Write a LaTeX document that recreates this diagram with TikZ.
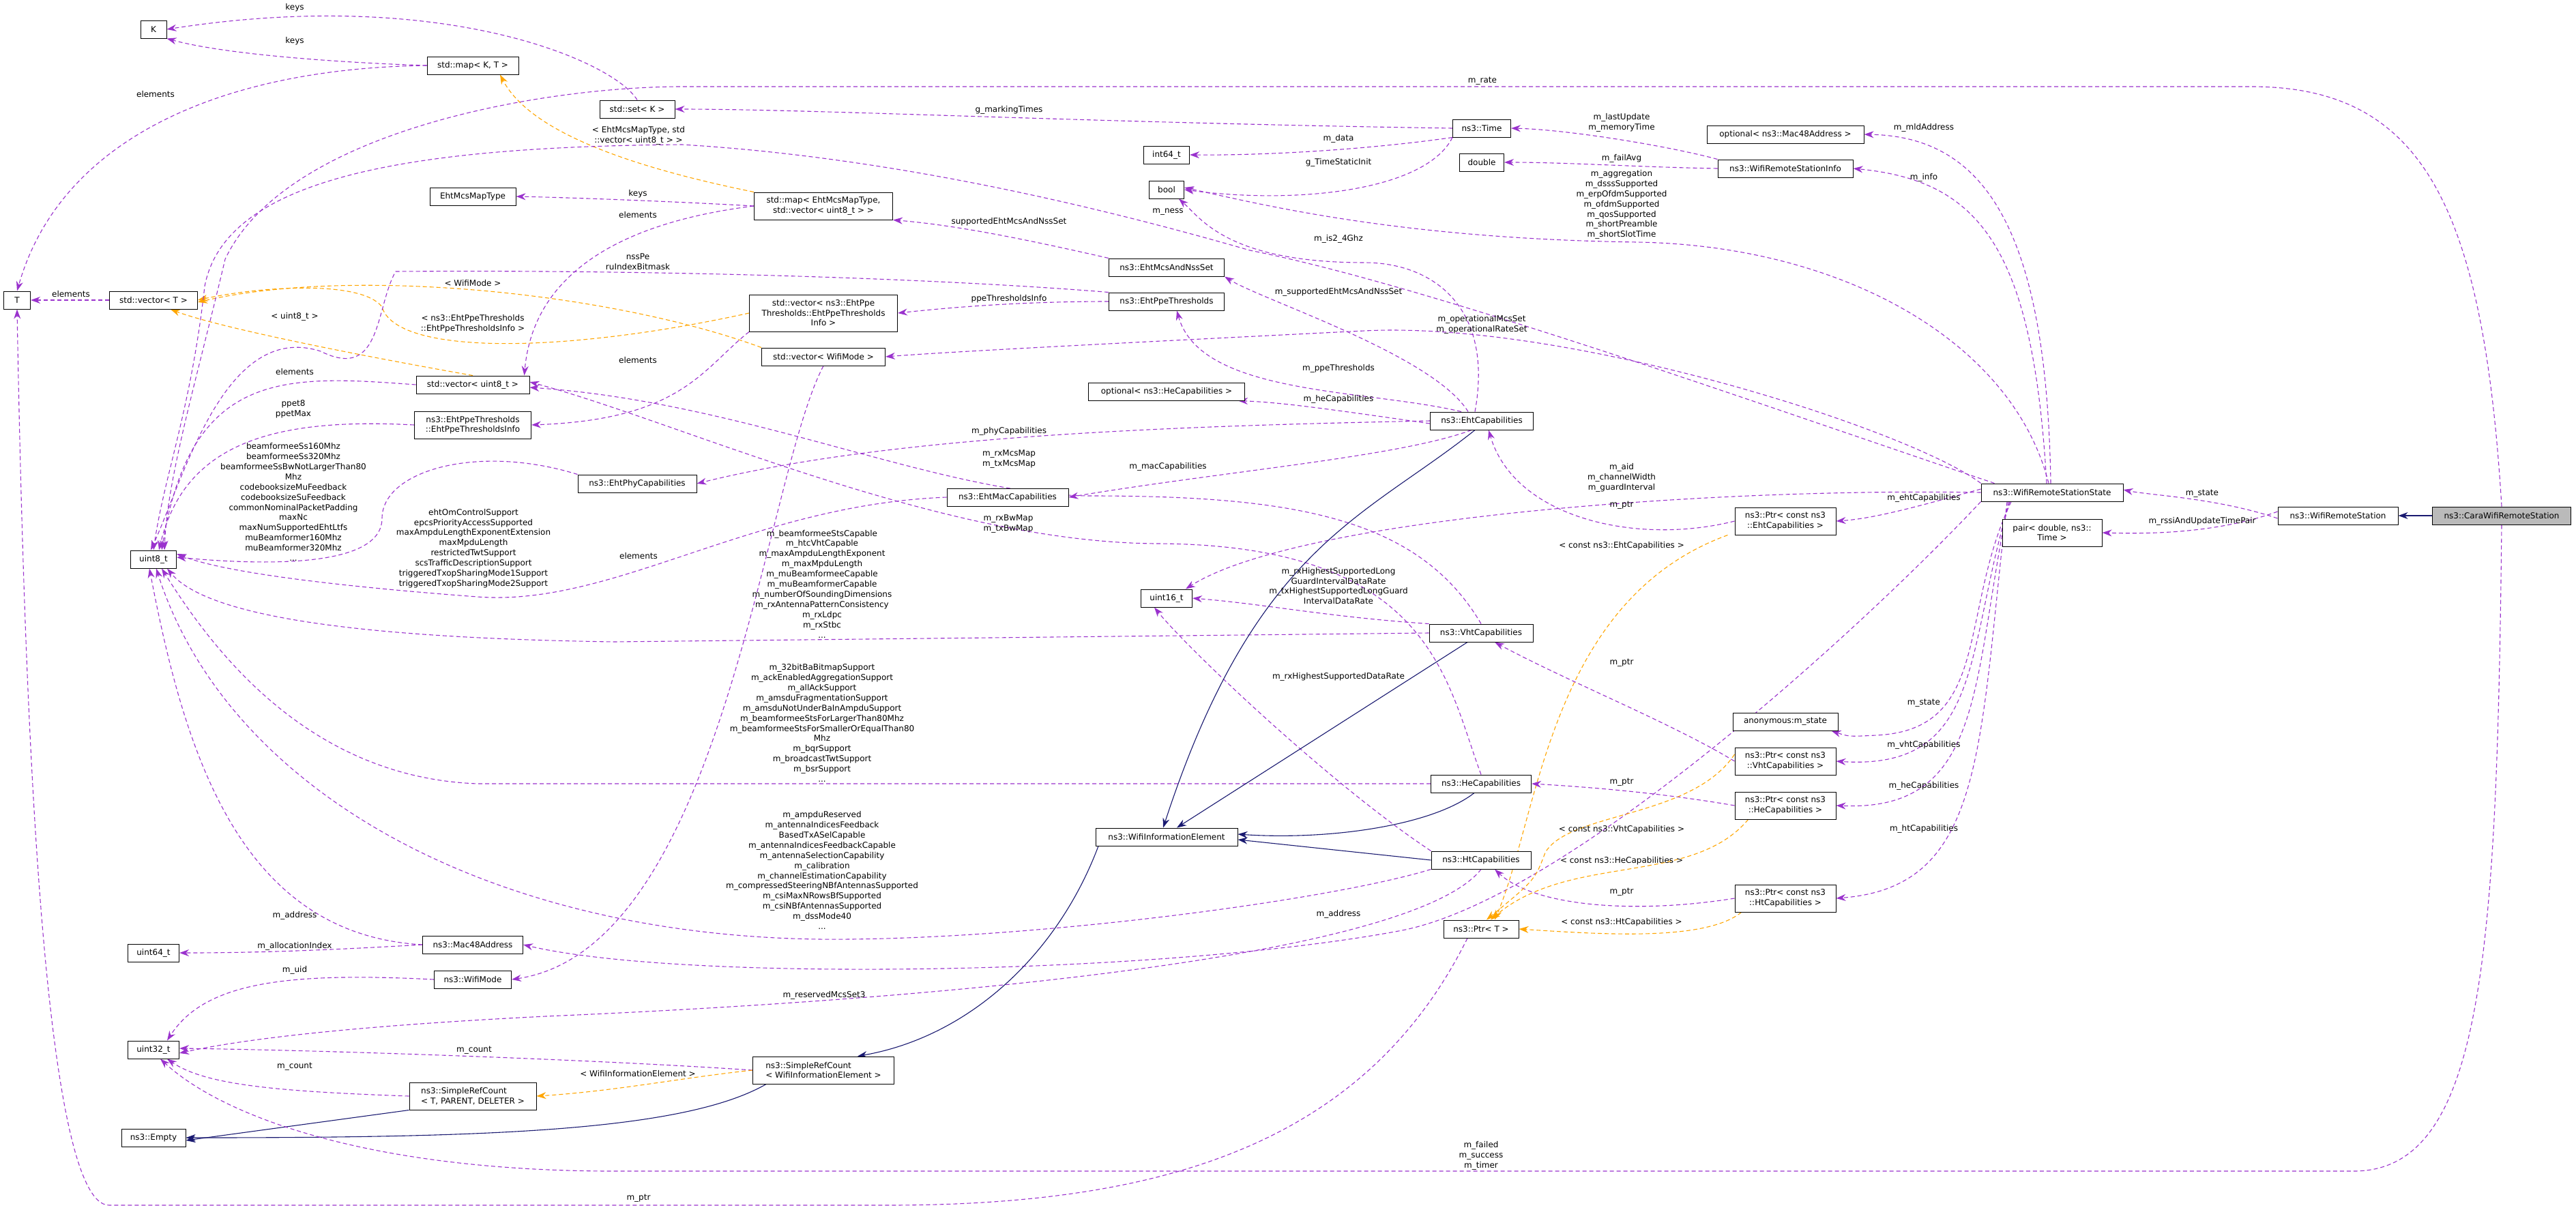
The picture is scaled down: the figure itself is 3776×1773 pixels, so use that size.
\documentclass[tikz,border=0pt]{standalone}
\usepackage{fontspec}
\setmainfont{DejaVu Sans}
\usetikzlibrary{arrows.meta,backgrounds}
\definecolor{pp}{HTML}{9A32CD}
\definecolor{og}{HTML}{FFA500}
\definecolor{nv}{HTML}{191970}
\begin{document}
\begin{tikzpicture}[x=1pt,y=-1pt,
 box/.style={draw=black,fill=white,inner sep=0pt,minimum height=26pt,align=center,line width=1pt,font=\fontsize{12}{14.5}\selectfont},
 box2/.style={box,minimum height=40pt},
 lbl/.style={font=\fontsize{12}{14.9}\selectfont,align=center,inner sep=0pt},
 e/.style={pp,line width=1.1pt,dash pattern=on 6pt off 4pt,-{Stealth[length=14pt,width=10pt]}},
 o/.style={e,og},
 n/.style={nv,line width=1.1pt,-{Stealth[length=14pt,width=10pt]}}]
\useasboundingbox (0,0) rectangle (3776,1773);
% nodes
\node[box,minimum width=38] (K) at (225,43) {K};
\node[box,minimum width=134] (mapKT) at (693,96) {std::map< K, T >};
\node[box,minimum width=110] (setK) at (934,160) {std::set< K >};
\node[box,minimum width=39] (T) at (25,440) {T};
\node[box,minimum width=129] (vecT) at (225,440) {std::vector< T >};
\node[box,minimum width=126] (emmt) at (693,288) {EhtMcsMapType};
\node[box2,minimum width=203] (mapEht) at (1207,302) {std::map< EhtMcsMapType,\\std::vector< uint8\_t > >};
\node[box,minimum height=54pt,minimum width=217] (vecPpe) at (1207,459) {std::vector< ns3::EhtPpe\\Thresholds::EhtPpeThresholds\\Info >};
\node[box,minimum width=181] (vecWM) at (1207,523) {std::vector< WifiMode >};
\node[box,minimum width=166] (vecU8) at (693,564) {std::vector< uint8\_t >};
\node[box2,minimum width=171] (ppeInfo) at (693,623) {ns3::EhtPpeThresholds\\::EhtPpeThresholdsInfo};
\node[box,minimum width=174] (ehtPhy) at (934,709) {ns3::EhtPhyCapabilities};
\node[box,minimum width=178] (ehtMac) at (1477,729) {ns3::EhtMacCapabilities};
\node[box,minimum width=67] (u8) at (225,820) {uint8\_t};
\node[box,minimum width=75] (u64) at (225,1397) {uint64\_t};
\node[box,minimum width=147] (mac48) at (693,1385) {ns3::Mac48Address};
\node[box,minimum width=113] (wifiMode) at (693,1436) {ns3::WifiMode};
\node[box,minimum width=75] (u32) at (225,1539) {uint32\_t};
\node[box2,minimum width=186,align=left] (srcTPD) at (693,1607) {ns3::SimpleRefCount\\< T, PARENT, DELETER >};
\node[box,minimum width=94] (empty) at (225,1668) {ns3::Empty};
\node[box2,minimum width=207,align=left] (srcWIE) at (1207,1569) {ns3::SimpleRefCount\\< WifiInformationElement >};
\node[box,minimum width=208] (wie) at (1710,1227) {ns3::WifiInformationElement};
\node[box,minimum width=85] (time) at (2172,188) {ns3::Time};
\node[box,minimum width=67] (i64) at (1710,227) {int64\_t};
\node[box,minimum width=51] (bool) at (1710,278) {bool};
\node[box,minimum width=65] (double) at (2172,238) {double};
\node[box,minimum width=230] (optMac) at (2617,197) {optional< ns3::Mac48Address >};
\node[box,minimum width=198] (wrsInfo) at (2617,247) {ns3::WifiRemoteStationInfo};
\node[box,minimum width=169] (ehtMcsNss) at (1710,392) {ns3::EhtMcsAndNssSet};
\node[box,minimum width=169] (ehtPpe) at (1710,442) {ns3::EhtPpeThresholds};
\node[box,minimum width=229] (optHe) at (1710,574) {optional< ns3::HeCapabilities >};
\node[box,minimum width=151] (ehtCap) at (2172,617) {ns3::EhtCapabilities};
\node[box2,minimum width=148] (ptrEht) at (2617,764) {ns3::Ptr< const ns3\\::EhtCapabilities >};
\node[box,minimum width=75] (u16) at (1710,877) {uint16\_t};
\node[box,minimum width=152] (vht) at (2171,928) {ns3::VhtCapabilities};
\node[box,minimum width=154] (anon) at (2617,1058) {anonymous:m\_state};
\node[box2,minimum width=148] (ptrVht) at (2617,1116) {ns3::Ptr< const ns3\\::VhtCapabilities >};
\node[box,minimum width=147] (he) at (2171,1149) {ns3::HeCapabilities};
\node[box2,minimum width=148] (ptrHe) at (2617,1181) {ns3::Ptr< const ns3\\::HeCapabilities >};
\node[box,minimum width=146] (ht) at (2171,1261) {ns3::HtCapabilities};
\node[box2,minimum width=148] (ptrHt) at (2617,1317) {ns3::Ptr< const ns3\\::HtCapabilities >};
\node[box,minimum width=110] (ptrT) at (2171,1362) {ns3::Ptr< T >};
\node[box,minimum width=208] (wrss) at (3008,722) {ns3::WifiRemoteStationState};
\node[box,minimum width=176] (wrs) at (3427,756) {ns3::WifiRemoteStation};
\node[box,minimum width=203,fill=black!27] (cara) at (3667,756) {ns3::CaraWifiRemoteStation};
\node[box2,minimum width=146] (pair) at (3008,781) {pair< double, ns3::\\Time >};
% labels
\node[lbl] (l1) at (432,11) {keys};
\node[lbl] (l2) at (432,60) {keys};
\node[lbl] (l3) at (228,138) {elements};
\node[lbl] (l4) at (104,431) {elements};
\node[lbl] (l5) at (935,284) {keys};
\node[lbl] (l6) at (935,315) {elements};
\node[lbl] (l7) at (936,199) {< EhtMcsMapType, std\\::vector< uint8\_t > >};
\node[lbl] (l8) at (432,464) {< uint8\_t >};
\node[lbl] (l9) at (693,475) {< ns3::EhtPpeThresholds\\::EhtPpeThresholdsInfo >};
\node[lbl] (l10) at (693,415) {< WifiMode >};
\node[lbl] (l11) at (432,545) {elements};
\node[lbl] (l12) at (430,600) {ppet8\\ppetMax};
\node[lbl] (l13) at (430,736) {beamformeeSs160Mhz\\beamformeeSs320Mhz\\beamformeeSsBwNotLargerThan80\\Mhz\\codebooksizeMuFeedback\\codebooksizeSuFeedback\\commonNominalPacketPadding\\maxNc\\maxNumSupportedEhtLtfs\\muBeamformer160Mhz\\muBeamformer320Mhz\\...};
\node[lbl] (l14) at (694,804) {ehtOmControlSupport\\epcsPriorityAccessSupported\\maxAmpduLengthExponentExtension\\maxMpduLength\\restrictedTwtSupport\\scsTrafficDescriptionSupport\\triggeredTxopSharingMode1Support\\triggeredTxopSharingMode2Support};
\node[lbl] (l15) at (935,528) {elements};
\node[lbl] (l16) at (936,815) {elements};
\node[lbl] (l17) at (1479,673) {m\_rxMcsMap\\m\_txMcsMap};
\node[lbl] (l18) at (1478,768) {m\_rxBwMap\\m\_txBwMap};
\node[lbl] (l19) at (1962,859) {m\_rxHighestSupportedLong\\GuardIntervalDataRate\\m\_txHighestSupportedLongGuard\\IntervalDataRate};
\node[lbl] (l20) at (1962,992) {m\_rxHighestSupportedDataRate};
\node[lbl] (l21) at (2377,700) {m\_aid\\m\_channelWidth\\m\_guardInterval};
\node[lbl] (l22) at (1205,856) {m\_beamformeeStsCapable\\m\_htcVhtCapable\\m\_maxAmpduLengthExponent\\m\_maxMpduLength\\m\_muBeamformeeCapable\\m\_muBeamformerCapable\\m\_numberOfSoundingDimensions\\m\_rxAntennaPatternConsistency\\m\_rxLdpc\\m\_rxStbc\\...};
\node[lbl] (l23) at (1205,1060) {m\_32bitBaBitmapSupport\\m\_ackEnabledAggregationSupport\\m\_allAckSupport\\m\_amsduFragmentationSupport\\m\_amsduNotUnderBaInAmpduSupport\\m\_beamformeeStsForLargerThan80Mhz\\m\_beamformeeStsForSmallerOrEqualThan80\\Mhz\\m\_bqrSupport\\m\_broadcastTwtSupport\\m\_bsrSupport\\...};
\node[lbl] (l24) at (1205,1276) {m\_ampduReserved\\m\_antennaIndicesFeedback\\BasedTxASelCapable\\m\_antennaIndicesFeedbackCapable\\m\_antennaSelectionCapability\\m\_calibration\\m\_channelEstimationCapability\\m\_compressedSteeringNBfAntennasSupported\\m\_csiMaxNRowsBfSupported\\m\_csiNBfAntennasSupported\\m\_dssMode40\\...};
\node[lbl] (l25) at (1962,1340) {m\_address};
\node[lbl] (l26) at (432,1342) {m\_address};
\node[lbl] (l27) at (432,1387) {m\_allocationIndex};
\node[lbl] (l28) at (432,1422) {m\_uid};
\node[lbl] (l29) at (1208,1459) {m\_reservedMcsSet3};
\node[lbl] (l30) at (695,1540) {m\_count};
\node[lbl] (l31) at (432,1564) {m\_count};
\node[lbl] (l32) at (935,1574) {< WifiInformationElement >};
\node[lbl] (l33) at (936,1757) {m\_ptr};
\node[lbl] (l34) at (2171,1694) {m\_failed\\m\_success\\m\_timer};
\node[lbl] (l35) at (2173,119) {m\_rate};
\node[lbl] (l36) at (1479,161) {g\_markingTimes};
\node[lbl] (l37) at (1962,203) {m\_data};
\node[lbl] (l38) at (1962,238) {g\_TimeStaticInit};
\node[lbl] (l39) at (2377,180) {m\_lastUpdate\\m\_memoryTime};
\node[lbl] (l40) at (2377,232) {m\_failAvg};
\node[lbl] (l41) at (2377,300) {m\_aggregation\\m\_dsssSupported\\m\_erpOfdmSupported\\m\_ofdmSupported\\m\_qosSupported\\m\_shortPreamble\\m\_shortSlotTime};
\node[lbl] (l42) at (1962,350) {m\_is2\_4Ghz};
\node[lbl] (l43) at (1479,325) {supportedEhtMcsAndNssSet};
\node[lbl] (l44) at (1962,428) {m\_supportedEhtMcsAndNssSet};
\node[lbl] (l45) at (1479,438) {ppeThresholdsInfo};
\node[lbl] (l46) at (935,384) {nssPe\\ruIndexBitmask};
\node[lbl] (l47) at (1962,540) {m\_ppeThresholds};
\node[lbl] (l48) at (1962,585) {m\_heCapabilities};
\node[lbl] (l49) at (1479,632) {m\_phyCapabilities};
\node[lbl] (l50) at (1712,684) {m\_macCapabilities};
\node[lbl] (l51) at (2172,476) {m\_operationalMcsSet\\m\_operationalRateSet};
\node[lbl] (l52) at (1712,311) {m\_ness};
\node[lbl] (l53) at (2820,187) {m\_mldAddress};
\node[lbl] (l54) at (2820,260) {m\_info};
\node[lbl] (l55) at (2820,730) {m\_ehtCapabilities};
\node[lbl] (l56) at (2820,1031) {m\_state};
\node[lbl] (l57) at (2820,1092) {m\_vhtCapabilities};
\node[lbl] (l58) at (2820,1152) {m\_heCapabilities};
\node[lbl] (l59) at (2820,1215) {m\_htCapabilities};
\node[lbl] (l60) at (3228,724) {m\_state};
\node[lbl] (l61) at (3228,764) {m\_rssiAndUpdateTimePair};
\node[lbl] (l62) at (2377,741) {m\_ptr};
\node[lbl] (l63) at (2377,800) {< const ns3::EhtCapabilities >};
\node[lbl] (l64) at (2377,972) {m\_ptr};
\node[lbl] (l65) at (2377,1147) {m\_ptr};
\node[lbl] (l66) at (2377,1308) {m\_ptr};
\node[lbl] (l67) at (2377,1216) {< const ns3::VhtCapabilities >};
\node[lbl] (l68) at (2377,1262) {< const ns3::HeCapabilities >};
\node[lbl] (l69) at (2377,1352) {< const ns3::HtCapabilities >};
% edges
\begin{scope}[on background layer]
\draw[e] (setK.north) .. controls (900,90) and (650,-20) .. (K.east);
\draw[e] (mapKT.west) .. controls (500,92) and (330,80) .. (K.south east);
\draw[e] (mapKT.west) .. controls (330,100) and (90,200) .. (T.north);
\draw[e] (vecT.west) -- (T.east);
\draw[e] (mapEht.west) .. controls (1000,296) and (850,290) .. (emmt.east);
\draw[e] (mapEht.west) .. controls (880,330) and (780,420) .. ([xshift=-8pt]vecU8.north east);
\draw[o] (mapEht.north west) .. controls (950,250) and (780,200) .. ([xshift=40pt]mapKT.south);
\draw[o] (vecU8.north) .. controls (520,520) and (320,480) .. ([xshift=-40pt]vecT.south east);
\draw[o] (vecPpe.west) .. controls (820,520) and (580,520) .. (560,450) .. controls (530,410) and (380,420) .. (vecT.east);
\draw[o] (vecWM.north west) .. controls (900,430) and (520,390) .. ([yshift=-3pt]vecT.east);
\draw[e] (vecU8.west) .. controls (420,550) and (280,540) .. ([xshift=12pt]u8.north);
\draw[e] (ppeInfo.west) .. controls (400,612) and (270,650) .. ([xshift=8pt]u8.north);
\draw[e] (ehtPhy.north west) .. controls (700,650) and (560,690) .. (560,760) .. controls (560,830) and (400,830) .. ([yshift=3pt]u8.east);
\draw[e] (ehtMac.west) .. controls (1100,740) and (900,890) .. (700,875) .. controls (500,860) and (330,840) .. ([yshift=8pt]u8.east);
\draw[e] (vecPpe.south west) .. controls (1030,540) and (1000,615) .. (ppeInfo.east);
\draw[e] (vecWM.south) .. controls (1120,700) and (1060,1390) .. (wifiMode.east);
\draw[e] (vht.north) .. controls (2080,760) and (1900,727) .. (1600,727) .. controls (1380,727) and (1100,590) .. ([yshift=-4pt]vecU8.east);
\draw[e] (he.north) .. controls (2120,1000) and (2100,800) .. (1700,797) .. controls (1380,797) and (1000,620) .. ([yshift=4pt]vecU8.east);
\draw[e] (vht.north west) .. controls (1950,905) and (1850,885) .. (u16.east);
\draw[e] (ht.north west) .. controls (1950,1150) and (1740,950) .. ([xshift=20pt]u16.south west);
\draw[e] (wrss.west) .. controls (2500,715) and (1900,760) .. ([xshift=-10pt]u16.north east);
\draw[e] (vht.west) -- (900,941) .. controls (500,935) and (300,900) .. ([xshift=20pt]u8.south);
\draw[e] (he.west) -- (700,1149) .. controls (450,1140) and (310,950) .. ([xshift=12pt]u8.south);
\draw[e] (ht.south west) .. controls (1950,1320) and (1500,1380) .. (1200,1377) .. controls (700,1370) and (330,1150) .. ([xshift=4pt]u8.south);
\draw[e] (wrss.south west) .. controls (2750,900) and (2300,1320) .. (2050,1365) .. controls (1700,1430) and (1000,1440) .. (mac48.east);
\draw[e] (mac48.west) .. controls (350,1370) and (270,1100) .. ([xshift=-6pt]u8.south);
\draw[e] (mac48.west) .. controls (450,1395) and (350,1397) .. (u64.east);
\draw[e] (wifiMode.west) .. controls (420,1425) and (300,1440) .. ([xshift=20pt]u32.north);
\draw[e] (ht.south) .. controls (2080,1390) and (1500,1460) .. (800,1490) .. controls (500,1505) and (350,1525) .. ([yshift=-5pt]u32.east);
\draw[e] (srcWIE.west) .. controls (900,1555) and (500,1540) .. ([yshift=2pt]u32.east);
\draw[e] (srcTPD.west) .. controls (400,1600) and (300,1590) .. ([xshift=20pt]u32.south);
\draw[o] (srcWIE.west) .. controls (1000,1580) and (900,1600) .. (srcTPD.east);
\draw[n] (srcTPD.south west) -- ([yshift=-4pt]empty.east);
\draw[n] ([xshift=20pt]srcWIE.south west) .. controls (1000,1660) and (700,1668) .. (empty.east);
\draw[n] ([xshift=-100pt]wie.south) .. controls (1550,1400) and (1420,1520) .. ([xshift=50pt]srcWIE.north);
\draw[n] ([xshift=-10pt]ehtCap.south) .. controls (2000,760) and (1840,800) .. ([xshift=-5pt]wie.north);
\draw[n] ([xshift=-20pt]vht.south) -- ([xshift=15pt]wie.north);
\draw[n] ([xshift=-10pt]he.south) .. controls (2100,1210) and (1950,1232) .. ([yshift=4pt]wie.east);
\draw[n] (ht.west) -- ([yshift=-4pt]wie.east);
\draw[n] (cara.west) -- (wrs.east);
\draw[e] ([xshift=-20pt]ptrT.south) .. controls (2000,1680) and (1700,1767) .. (1300,1767) -- (160,1767) .. controls (60,1767) and (35,1000) .. (T.south);
\draw[e] (cara.south) .. controls (3660,1400) and (3640,1717) .. (3450,1717) -- (900,1717) .. controls (550,1717) and (330,1640) .. ([xshift=10pt]u32.south);
\draw[e] (cara.north) .. controls (3640,300) and (3550,127) .. (3300,127) -- (1000,127) .. controls (800,127) and (420,190) .. (330,380) .. controls (290,550) and (245,700) .. ([xshift=16pt]u8.north);
\draw[e] (time.west) .. controls (1600,180) and (1200,160) .. (setK.east);
\draw[e] (time.south west) .. controls (2000,220) and (1850,228) .. (i64.east);
\draw[e] (time.south west) .. controls (2090,280) and (1900,300) .. (bool.east);
\draw[e] (wrsInfo.north west) .. controls (2450,215) and (2300,190) .. (time.east);
\draw[e] (wrsInfo.west) .. controls (2400,245) and (2300,238) .. (double.east);
\draw[e] ([xshift=-5pt]wrss.north) .. controls (2950,500) and (2700,360) .. (2400,355) .. controls (2050,350) and (1850,300) .. ([yshift=3pt]bool.east);
\draw[e] ([xshift=-10pt]ehtCap.north) .. controls (2190,450) and (2100,385) .. (2000,385) .. controls (1800,385) and (1760,320) .. ([xshift=-8pt]bool.south east);
\draw[e] (ehtMcsNss.north west) .. controls (1500,350) and (1400,330) .. (mapEht.south east);
\draw[e] ([xshift=-20pt]ehtCap.north) .. controls (2100,520) and (1850,440) .. (ehtMcsNss.south east);
\draw[e] (ehtPpe.west) .. controls (1500,442) and (1400,450) .. (vecPpe.east);
\draw[e] (ehtPpe.north west) .. controls (1400,410) and (1000,395) .. (580,398) .. controls (550,450) and (560,560) .. (470,515) .. controls (330,470) and (270,700) .. ([xshift=-4pt]u8.north);
\draw[e] ([xshift=-30pt]ehtCap.north) .. controls (2000,570) and (1760,580) .. ([xshift=15pt]ehtPpe.south);
\draw[e] ([yshift=-4pt]ehtCap.west) .. controls (1950,600) and (1880,590) .. ([xshift=-10pt]optHe.south east);
\draw[e] (ehtCap.west) .. controls (1700,625) and (1300,640) .. (ehtPhy.east);
\draw[e] ([xshift=-15pt]ehtCap.south) .. controls (2050,670) and (1800,690) .. (ehtMac.east);
\draw[e] (wrss.north west) .. controls (2800,630) and (2300,470) .. (2000,485) .. controls (1700,500) and (1400,515) .. (vecWM.east);
\draw[e] ([xshift=20pt]wrss.north west) .. controls (2600,600) and (2100,420) .. (1832,367) .. controls (1600,300) and (1300,230) .. (1000,212) .. controls (600,215) and (330,260) .. (300,420) .. controls (280,600) and (240,700) .. (u8.north);
\draw[e] ([xshift=-2pt]wrss.north) .. controls (3000,320) and (2900,200) .. (optMac.east);
\draw[e] ([xshift=-8pt]wrss.north) .. controls (2980,360) and (2900,265) .. (wrsInfo.east);
\draw[e] ([yshift=5pt]wrss.west) .. controls (2820,740) and (2750,760) .. (ptrEht.east);
\draw[e] ([xshift=-60pt]wrss.south) .. controls (2870,900) and (2920,1070) .. (2750,1078) .. controls (2710,1080) .. ([xshift=-10pt]anon.south east);
\draw[e] ([xshift=-62pt]wrss.south) .. controls (2880,950) and (2910,1130) .. (ptrVht.east);
\draw[e] ([xshift=-64pt]wrss.south) .. controls (2890,1000) and (2910,1190) .. (ptrHe.east);
\draw[e] ([xshift=-66pt]wrss.south) .. controls (2900,1100) and (2910,1300) .. (ptrHt.east);
\draw[e] ([yshift=-4pt]wrs.west) .. controls (3250,730) and (3150,726) .. ([yshift=4pt]wrss.east);
\draw[e] ([yshift=6pt]wrs.west) .. controls (3250,782) and (3150,783) .. (pair.east);
\draw[e] (ptrEht.west) .. controls (2400,800) and (2220,760) .. ([xshift=10pt]ehtCap.south);
\draw[o] ([xshift=-10pt]ptrEht.south west) .. controls (2270,880) and (2255,1200) .. ([xshift=20pt]ptrT.north);
\draw[e] (ptrVht.west) .. controls (2450,1060) and (2300,1000) .. ([xshift=20pt]vht.south);
\draw[e] (ptrHe.west) .. controls (2450,1165) and (2350,1155) .. (he.east);
\draw[e] (ptrHt.west) .. controls (2400,1340) and (2250,1330) .. ([xshift=20pt]ht.south);
\draw[o] ([yshift=10pt]ptrVht.west) .. controls (2480,1200) and (2300,1190) .. (2265,1250) .. controls (2250,1290) .. ([xshift=8pt]ptrT.north);
\draw[o] ([xshift=20pt]ptrHe.south west) .. controls (2480,1300) and (2300,1250) .. ([xshift=14pt]ptrT.north);
\draw[o] ([xshift=10pt]ptrHt.south west) .. controls (2500,1380) and (2350,1370) .. (ptrT.east);
\end{scope}
\end{tikzpicture}
\end{document}
